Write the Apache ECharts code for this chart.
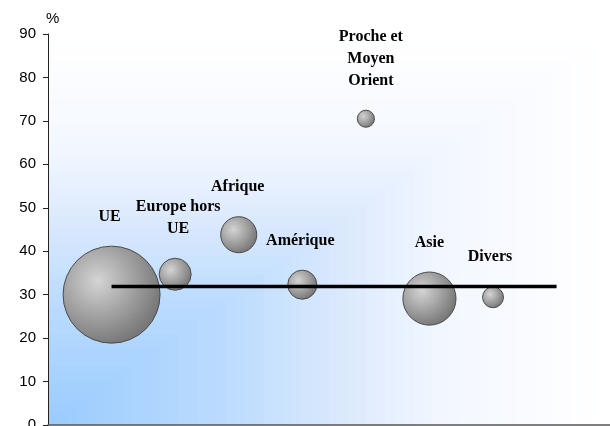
<!DOCTYPE html>
<html>
<head>
<meta charset="utf-8">
<script src="https://cdn.jsdelivr.net/npm/echarts@6/dist/echarts.min.js"></script>
<style>
  html, body { margin: 0; padding: 0; background: #fff; }
  #main { width: 610px; height: 426px; }
</style>
</head>
<body>
<div id="main"></div>
<script>
// zones (x position = rank 1..7)
var zones = ['UE', 'Europe hors\nUE', 'Afrique', 'Amérique', 'Proche et\nMoyen\nOrient', 'Asie', 'Divers'];
var values = [30.0, 34.7, 43.8, 32.3, 70.5, 29.1, 29.4];   // %
var weights = [58, 6.3, 8, 5.2, 1.8, 17.4, 2.7];           // bubble size
var average = 31.9;                                       // black line
var yTicks = [0, 10, 20, 30, 40, 50, 60, 70, 80, 90];

// label placement relative to bubble centre (px)
var labelOffsets = [[-2, -78], [3, -56], [-1, -48], [-2, -44], [5, -60], [0, -56], [-3, -40]];

// plot area and its "from corner" fill (blue at bottom-left, white at top-right)
var plot = { left: 48, top: 34, width: 562, height: 391 };
var bgStops = [[0, '#99cbfe'], [0.33, '#bcdcfe'], [0.53, '#dbe9fd'], [0.71, '#f2f7ff'], [0.89, '#fbfcff'], [1, '#ffffff']];

function hexToRgb(h) {
  return [parseInt(h.substr(1, 2), 16), parseInt(h.substr(3, 2), 16), parseInt(h.substr(5, 2), 16)];
}
function bgColor(t) {
  for (var i = 1; i < bgStops.length; i++) {
    if (t <= bgStops[i][0]) {
      var a = bgStops[i - 1], b = bgStops[i];
      var k = (t - a[0]) / (b[0] - a[0]);
      var ca = hexToRgb(a[1]), cb = hexToRgb(b[1]);
      return 'rgb(' + ca.map(function (c, j) { return Math.round(c + (cb[j] - c) * k); }).join(',') + ')';
    }
  }
  return bgStops[bgStops.length - 1][1];
}

var bands = [];
var nBands = 60;
for (var s = nBands; s >= 1; s--) {
  var t = s / nBands;
  var w = plot.width * t, h = plot.height * t;
  bands.push({
    type: 'rect',
    z: -10,
    silent: true,
    shape: { x: plot.left, y: plot.top + plot.height - h, width: w, height: h },
    style: { fill: bgColor(t) }
  });
}

var chart = echarts.init(document.getElementById('main'));

var bubbleFill = {
  type: 'radial', x: 0.36, y: 0.36, r: 0.66,
  colorStops: [
    { offset: 0, color: '#d4d4d4' },
    { offset: 0.5, color: '#a6a6a6' },
    { offset: 1, color: '#787878' }
  ]
};

var points = zones.map(function (name, i) {
  return {
    name: name,
    value: [i + 1, values[i], weights[i]],
    label: { offset: labelOffsets[i] }
  };
});

chart.setOption({
  animation: false,
  graphic: bands,
  grid: {
    left: plot.left, right: 610 - plot.left - plot.width, top: plot.top, bottom: 426 - plot.top - plot.height,
    outerBoundsMode: 'none',
    containLabel: false,
    show: false
  },
  xAxis: {
    type: 'value', min: 0, max: 8.84,
    axisLine: { show: true, lineStyle: { color: '#555', width: 1.5 } },
    axisTick: { show: false },
    axisLabel: { show: false },
    splitLine: { show: false }
  },
  yAxis: {
    type: 'value', min: yTicks[0], max: yTicks[yTicks.length - 1], interval: 10,
    name: '%',
    nameLocation: 'end',
    nameGap: 8,
    nameTextStyle: { fontFamily: 'Liberation Sans', fontSize: 15, color: '#000', align: 'left', padding: [0, 0, 0, -2] },
    axisLine: { show: true, lineStyle: { color: '#222', width: 1 } },
    axisTick: { show: true, length: 5, lineStyle: { color: '#222' } },
    axisLabel: { fontFamily: 'Liberation Sans', fontSize: 15, color: '#000', margin: 12 },
    splitLine: { show: false }
  },
  series: [
    {
      type: 'scatter',
      data: points,
      symbolSize: function (v) { return 97 * Math.sqrt(v[2] / weights[0]); },
      itemStyle: { color: bubbleFill, borderColor: '#4a4a4a', borderWidth: 1, opacity: 1 },
      label: {
        show: true,
        position: 'inside',
        formatter: function (p) { return p.name; },
        fontFamily: 'Liberation Serif',
        fontWeight: 'bold',
        fontSize: 16,
        lineHeight: 22,
        color: '#000',
        align: 'center',
        verticalAlign: 'middle'
      },
      z: 2
    },
    {
      type: 'line',
      data: [[1, average], [8, average]],
      symbol: 'none',
      lineStyle: { color: '#000', width: 3.5 },
      z: 3
    }
  ]
});
</script>
</body>
</html>
